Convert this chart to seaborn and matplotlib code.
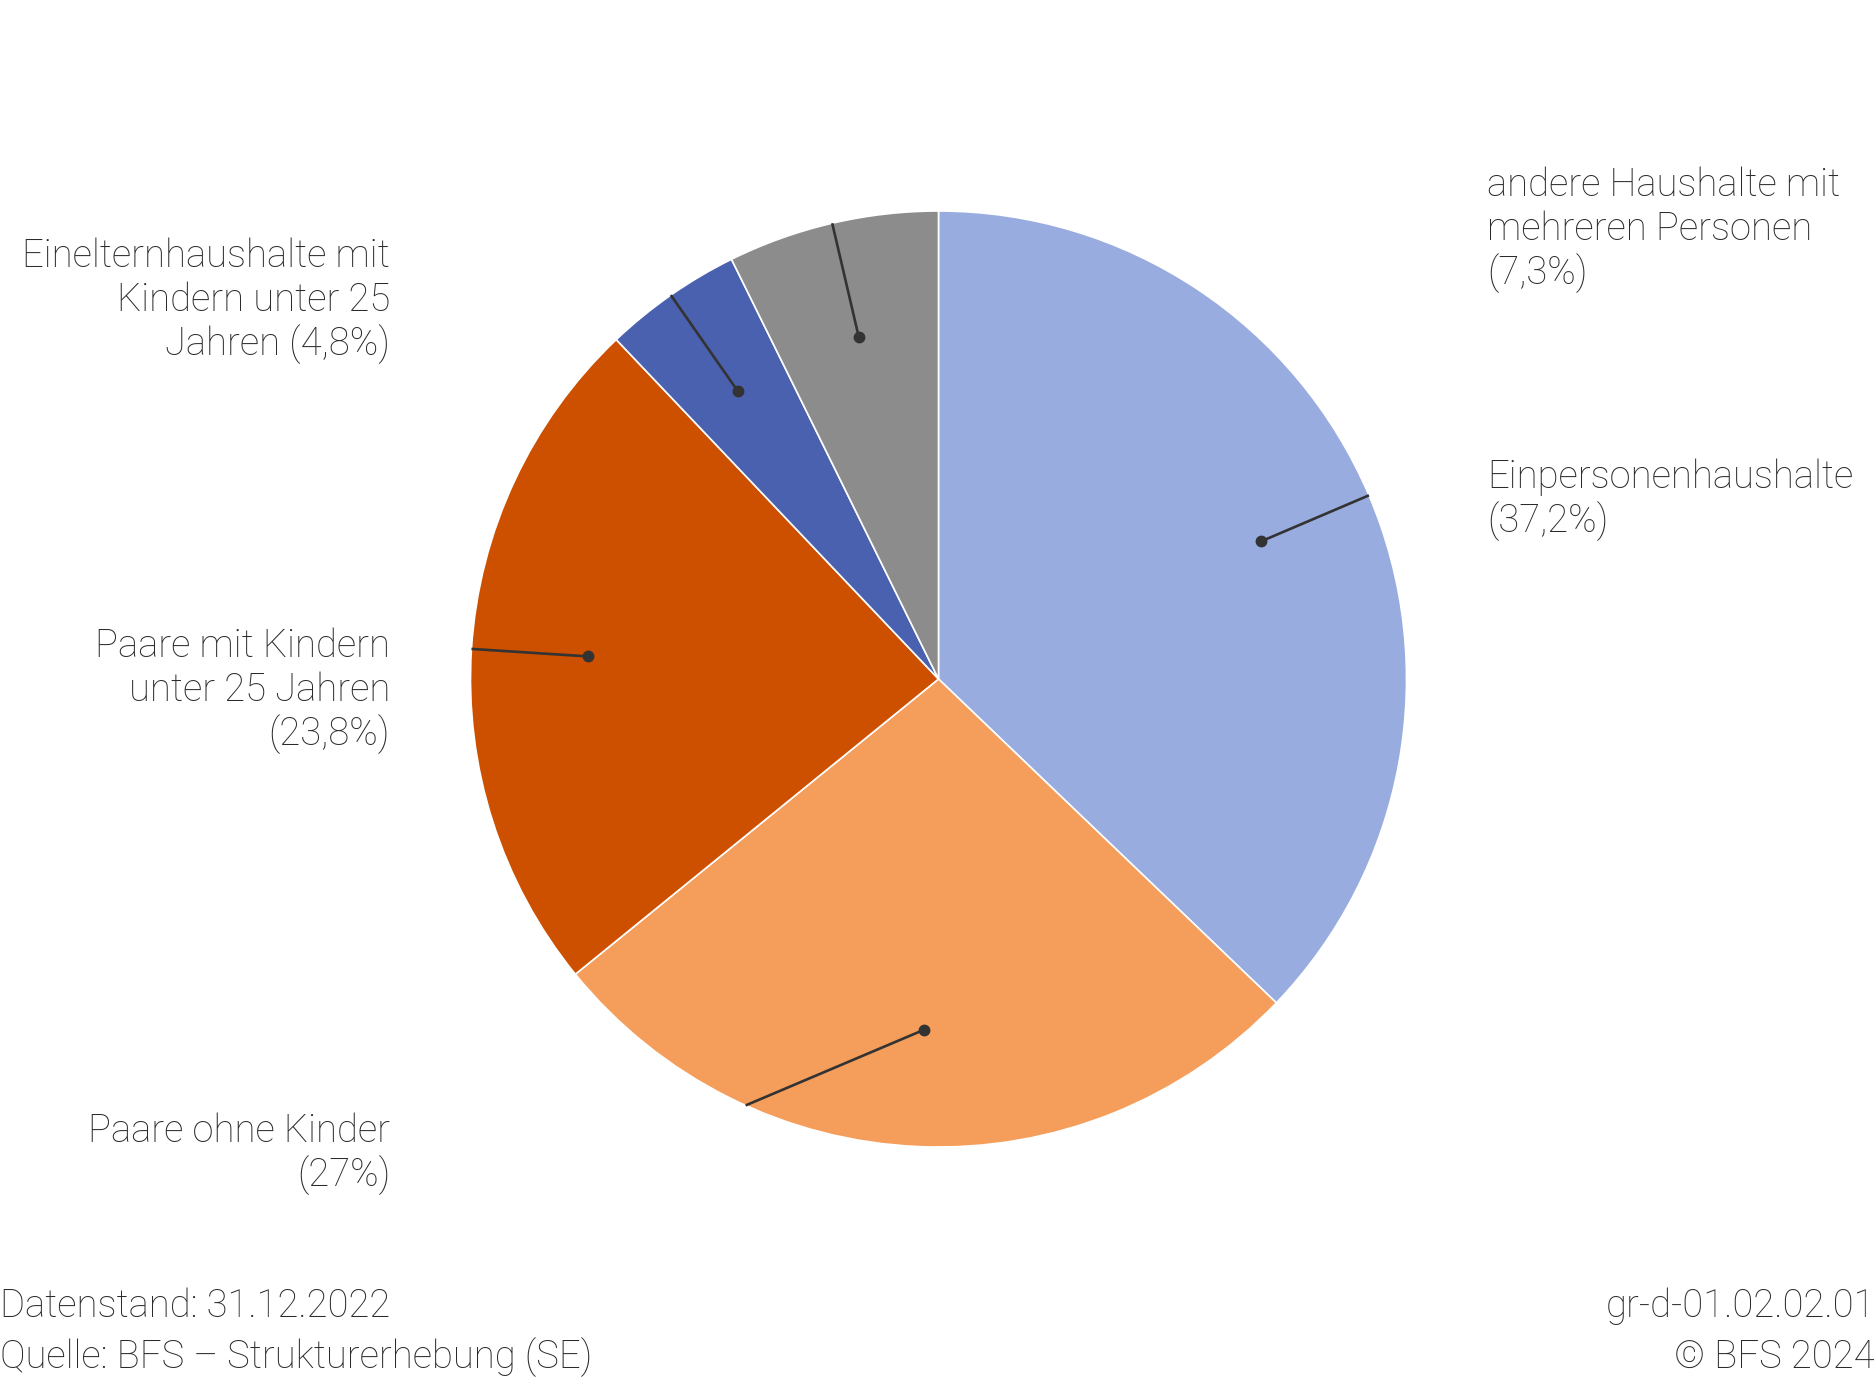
import numpy as np
import matplotlib
matplotlib.use('Agg')
import matplotlib.pyplot as plt
import seaborn as sns

# Daten: Privathaushalte nach Haushaltstyp, 2022
kategorien = ['Einpersonenhaushalte', 'Paare ohne Kinder', 'Paare mit Kindern unter 25 Jahren',
              'Einelternhaushalte mit Kindern unter 25 Jahren', 'andere Haushalte mit mehreren Personen']
anteile = [37.2, 27.0, 23.8, 4.8, 7.3]
beschriftungen = [['Einpersonenhaushalte', '(37,2%)'],
                  ['Paare ohne Kinder', '(27%)'],
                  ['Paare mit Kindern', 'unter 25 Jahren', '(23,8%)'],
                  ['Einelternhaushalte mit', 'Kindern unter 25', 'Jahren (4,8%)'],
                  ['andere Haushalte mit', 'mehreren Personen', '(7,3%)']]
farben = ['#99ace0', '#f59d5a', '#cc5000', '#4a61b0', '#8c8c8c']

sns.set_theme(style='white')
plt.rcParams['font.family'] = ['Roboto', 'DejaVu Sans']
textfarbe = '#2b2b2b'
schrift = dict(fontsize=27.5, fontweight='light', color=textfarbe)

W, H = 1875, 1379
fig = plt.figure(figsize=(W / 100, H / 100), dpi=100)

# Kreis: Mittelpunkt und Radius in Pixeln
cx, cy, r = 938.5, 679, 468
ax = fig.add_axes([(cx - r) / W, 1 - (cy + r) / H, 2 * r / W, 2 * r / H])
wedges, _ = ax.pie(anteile, colors=farben, startangle=90, counterclock=False, radius=1,
                   wedgeprops=dict(edgecolor='white', linewidth=1.2))
ax.set_xlim(-1, 1)
ax.set_ylim(-1, 1)
ax.set_aspect('equal')
ax.axis('off')

# Verbindungslinien: Punkt bei 0.75 r auf der Sektormitte, Ende am Kreisrand
end_versatz = [0, -22, 0, 0, 0]
for w, dv in zip(wedges, end_versatz):
    mitte = np.deg2rad((w.theta1 + w.theta2) / 2)
    ende = mitte + np.deg2rad(dv)
    x0, y0 = 0.75 * np.cos(mitte), 0.75 * np.sin(mitte)
    x1, y1 = np.cos(ende), np.sin(ende)
    ax.plot([x0, x1], [y0, y1], color='#333333', lw=1.9, solid_capstyle='butt', clip_on=False)
    ax.plot([x0], [y0], 'o', color='#333333', ms=7.5, clip_on=False)

# Beschriftungen (Pixel: x, Mitte der ersten Zeile, Ausrichtung)
zeilenabstand = 44
pos = [(1487, 477, 'left'), (390, 1131, 'right'), (390, 646, 'right'),
       (390, 256, 'right'), (1487, 185, 'left')]
for zeilen, (x, y, ha) in zip(beschriftungen, pos):
    for i, z in enumerate(zeilen):
        fig.text(x / W, 1 - (y + i * zeilenabstand) / H, z, ha=ha, va='center', **schrift)

# Fusszeile
fig.text(0, 1 - 1306 / H, 'Datenstand: 31.12.2022', ha='left', va='center', **schrift)
fig.text(0, 1 - 1357 / H, 'Quelle: BFS – Strukturerhebung (SE)', ha='left', va='center', **schrift)
fig.text(1, 1 - 1306 / H, 'gr-d-01.02.02.01', ha='right', va='center', **schrift)
fig.text(1, 1 - 1357 / H, '© BFS 2024', ha='right', va='center', **schrift)

fig.savefig('out.png', dpi=100, facecolor='white')
